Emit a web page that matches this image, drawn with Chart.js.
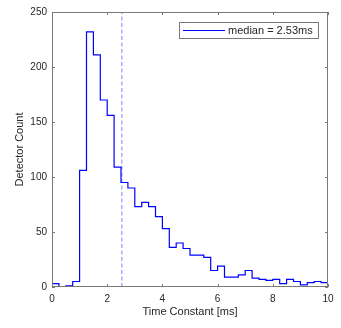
<!DOCTYPE html>
<html>
<head>
<meta charset="utf-8">
<script src="https://cdn.jsdelivr.net/npm/chart.js@4/dist/chart.umd.min.js"></script>
<style>
  html, body { margin: 0; padding: 0; background: #fff; }
</style>
</head>
<body>
<canvas id="histChart" width="341" height="328"></canvas>
<script>
// histogram bin edges (ms) and detector counts per bin
const binEdges = [0, 0.25, 0.5, 0.75, 1, 1.25, 1.5, 1.75, 2, 2.25, 2.5, 2.75, 3, 3.25, 3.5, 3.75,
    4, 4.25, 4.5, 4.75, 5, 5.25, 5.5, 5.75, 6, 6.25, 6.5, 6.75, 7, 7.25, 7.5, 7.75,
    8, 8.25, 8.5, 8.75, 9, 9.25, 9.5, 9.75, 10];
const counts = [3, 0, 1, 5, 106, 232, 211, 170, 156, 109, 95, 90, 73, 77, 73, 64,
    53, 36, 40, 35, 29, 29, 27, 15, 19, 9, 9, 11, 15, 8, 7, 6,
    7, 3, 7, 5, 2, 4, 5, 4];
const medianValue = 2.53;
const legendLabel = 'median = 2.53ms';
const xTicks = [0, 2, 4, 6, 8, 10];
const yTicks = [0, 50, 100, 150, 200, 250];

const FONT = 'Liberation Sans, Arial, Helvetica, sans-serif';
const TEXT = '#262626';

// stairs outline: each edge carries the count of the bin to its right
const stairPoints = binEdges.map((x, i) => ({ x: x, y: counts[Math.min(i, counts.length - 1)] }));

// box + inward ticks on all four sides, like a matlab axes
const axesFrame = {
    id: 'axesFrame',
    afterDatasetsDraw(chart) {
        const { ctx, chartArea: a, scales } = chart;
        ctx.save();
        ctx.strokeStyle = '#7a7a7a';
        ctx.lineWidth = 1;
        ctx.strokeRect(a.left + 0.5, a.top + 0.5, a.right - a.left - 1, a.bottom - a.top - 1);
        ctx.beginPath();
        xTicks.forEach(v => {
            const px = Math.round(scales.x.getPixelForValue(v)) + 0.5;
            ctx.moveTo(px, a.bottom); ctx.lineTo(px, a.bottom - 3);
            ctx.moveTo(px, a.top); ctx.lineTo(px, a.top + 3);
        });
        yTicks.forEach(v => {
            const py = Math.round(scales.y.getPixelForValue(v)) + 0.5;
            ctx.moveTo(a.left, py); ctx.lineTo(a.left + 3, py);
            ctx.moveTo(a.right, py); ctx.lineTo(a.right - 3, py);
        });
        ctx.stroke();
        ctx.restore();
    }
};

const insideLegend = {
    id: 'insideLegend',
    afterDraw(chart) {
        const { ctx, chartArea: a } = chart;
        const w = 139, h = 16;
        const left = a.right - 10 - w, top = a.top + 10;
        ctx.save();
        ctx.fillStyle = '#fff';
        ctx.fillRect(left, top, w, h);
        ctx.strokeStyle = '#7a7a7a';
        ctx.lineWidth = 1;
        ctx.strokeRect(left + 0.5, top + 0.5, w, h);
        ctx.strokeStyle = '#0000ff';
        ctx.beginPath();
        ctx.moveTo(left + 4, top + 8.5);
        ctx.lineTo(left + 46, top + 8.5);
        ctx.stroke();
        ctx.fillStyle = TEXT;
        ctx.font = '11px ' + FONT;
        ctx.textBaseline = 'middle';
        ctx.fillText(legendLabel, left + 49, top + 9);
        ctx.restore();
    }
};

new Chart(document.getElementById('histChart'), {
    type: 'line',
    data: {
        datasets: [{
            label: 'counts',
            data: stairPoints,
            stepped: 'before',
            borderColor: '#0000ff',
            borderWidth: 1.2,
            pointRadius: 0,
            fill: false
        }, {
            label: 'median',
            data: [{ x: medianValue, y: 0 }, { x: medianValue, y: 250 }],
            borderColor: '#a0a0ff',
            borderWidth: 1.3,
            borderDash: [4, 2.5],
            pointRadius: 0,
            fill: false
        }]
    },
    options: {
        responsive: false,
        animation: false,
        devicePixelRatio: 1,
        layout: { padding: { top: 12, right: 13, left: 0, bottom: 0 } },
        plugins: {
            legend: { display: false },
            tooltip: { enabled: false }
        },
        scales: {
            x: {
                type: 'linear',
                min: 0,
                max: 10,
                afterBuildTicks: s => { s.ticks = xTicks.map(v => ({ value: v })); },
                afterFit: s => { s.height = 41; },
                grid: { display: false, drawTicks: false },
                border: { display: false },
                ticks: { color: TEXT, font: { family: FONT, size: 10 }, padding: 6, maxRotation: 0 },
                title: { display: true, text: 'Time Constant [ms]', color: TEXT,
                    font: { family: FONT, size: 11 }, padding: { top: 0, bottom: 9 } }
            },
            y: {
                min: 0,
                max: 250,
                afterBuildTicks: s => { s.ticks = yTicks.map(v => ({ value: v })); },
                afterFit: s => { s.width = 52; },
                grid: { display: false, drawTicks: false },
                border: { display: false },
                ticks: { color: TEXT, font: { family: FONT, size: 10 }, padding: 5 },
                title: { display: true, text: 'Detector Count', color: TEXT,
                    font: { family: FONT, size: 11 }, padding: { top: 13, bottom: 0 } }
            }
        }
    },
    plugins: [axesFrame, insideLegend]
});
</script>
</body>
</html>
